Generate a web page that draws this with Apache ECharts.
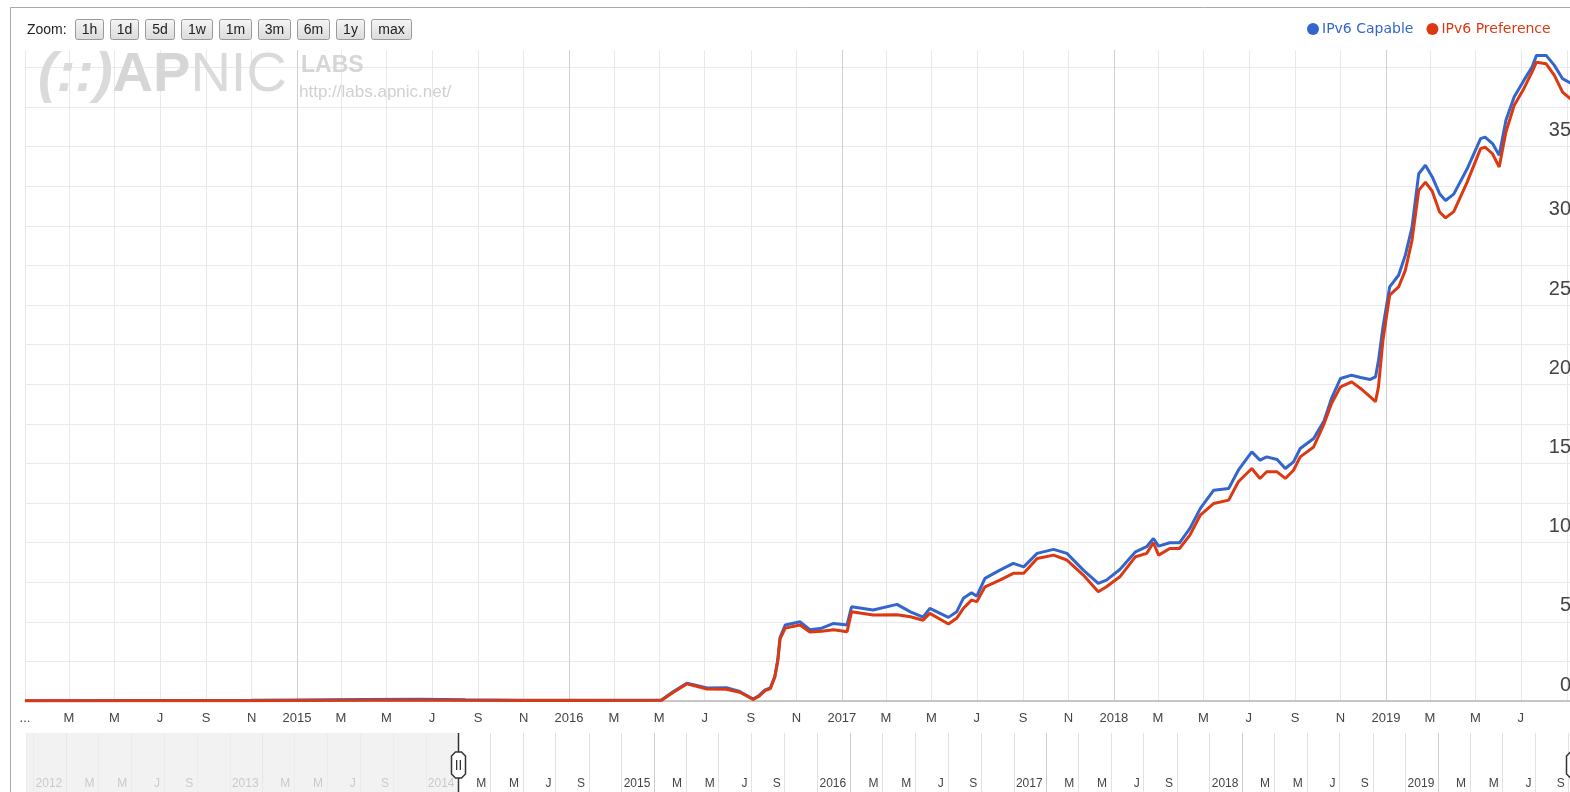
<!DOCTYPE html>
<html>
<head>
<meta charset="utf-8">
<style>
  html, body { margin: 0; padding: 0; width: 1570px; height: 792px; overflow: hidden; background: #fff; }
  #chart { width: 1600px; height: 820px; }
</style>
<script src="https://cdn.jsdelivr.net/npm/echarts@6/dist/echarts.min.js"></script>
</head>
<body>
<div id="chart"></div>
<script>
// 日期
const dates = [
  '2014-01-01','2014-06-01','2014-11-01','2015-01-01','2015-04-01','2015-06-15','2015-08-15','2015-11-01','2016-02-01','2016-05-04',
  '2016-05-20','2016-06-07','2016-06-20','2016-07-04','2016-07-30','2016-08-17','2016-09-04','2016-09-12','2016-09-20','2016-09-27',
  '2016-10-03','2016-10-07','2016-10-10','2016-10-17','2016-11-06','2016-11-19','2016-12-05','2016-12-21','2017-01-08','2017-01-14',
  '2017-02-12','2017-03-16','2017-04-03','2017-04-20','2017-04-29','2017-05-24','2017-06-04','2017-06-13','2017-06-24','2017-07-01',
  '2017-07-12','2017-08-01','2017-08-19','2017-09-02','2017-09-20','2017-10-12','2017-10-30','2017-11-21','2017-12-11','2017-12-22',
  '2018-01-09','2018-01-30','2018-02-14','2018-02-23','2018-03-02','2018-03-17','2018-03-30','2018-04-13','2018-04-27','2018-05-15',
  '2018-06-04','2018-06-17','2018-07-05','2018-07-16','2018-07-25','2018-08-08','2018-08-19','2018-08-30','2018-09-08','2018-09-26',
  '2018-10-10','2018-10-20','2018-11-01','2018-11-16','2018-11-28','2018-12-11','2018-12-18','2018-12-22','2018-12-28','2019-01-06',
  '2019-01-18','2019-01-27','2019-02-05','2019-02-14','2019-02-23','2019-03-04','2019-03-14','2019-03-22','2019-04-02','2019-04-20',
  '2019-05-08','2019-05-14','2019-05-24','2019-06-02','2019-06-11','2019-06-22','2019-07-05','2019-07-16','2019-07-22','2019-08-04',
  '2019-08-15','2019-08-26','2019-09-06'
];
// IPv6 Capable (%)
const capable = [
  0.02, 0.03, 0.04, 0.06, 0.09, 0.11, 0.08, 0.05, 0.05, 0.06,
  0.6, 1.12, 0.98, 0.82, 0.84, 0.6, 0.12, 0.35, 0.7, 0.82,
  1.55, 2.6, 4.0, 4.8, 5.0, 4.5, 4.6, 4.9, 4.8, 5.95,
  5.74, 6.1, 5.63, 5.3, 5.85, 5.28, 5.63, 6.48, 6.83, 6.62,
  7.74, 8.26, 8.69, 8.47, 9.32, 9.57, 9.32, 8.26, 7.43, 7.63,
  8.3, 9.42, 9.74, 10.26, 9.78, 9.99, 9.99, 10.9, 12.16, 13.31,
  13.42, 14.57, 15.73, 15.21, 15.41, 15.25, 14.68, 15.1, 15.94, 16.57,
  17.7, 19.1, 20.36, 20.57, 20.42, 20.3, 20.46, 21.5, 23.6, 26.14,
  26.88, 28.14, 29.92, 33.29, 33.82, 33.1, 32.03, 31.6, 32.0, 33.6,
  35.5, 35.6, 35.19, 34.45, 36.66, 38.13, 39.18, 40.02, 40.76, 40.76,
  40.13, 39.29, 39.0
];
// IPv6 Preference (%)
const preference = [
  0.01, 0.02, 0.02, 0.03, 0.04, 0.05, 0.04, 0.03, 0.03, 0.04,
  0.55, 1.08, 0.93, 0.76, 0.74, 0.55, 0.1, 0.3, 0.66, 0.78,
  1.5, 2.5, 3.9, 4.6, 4.8, 4.35, 4.4, 4.5, 4.37, 5.63,
  5.43, 5.45, 5.32, 5.1, 5.53, 4.86, 5.22, 5.85, 6.37, 6.27,
  7.21, 7.63, 8.06, 8.06, 9.0, 9.21, 8.9, 7.95, 6.9, 7.21,
  7.84, 9.11, 9.32, 9.99, 9.21, 9.63, 9.63, 10.47, 11.74, 12.47,
  12.68, 13.84, 14.68, 14.05, 14.47, 14.47, 14.05, 14.57, 15.41, 16.04,
  17.5, 18.78, 19.83, 20.15, 19.73, 19.2, 18.9, 19.83, 22.78, 25.62,
  26.14, 27.19, 29.08, 32.24, 32.76, 32.2, 30.87, 30.5, 30.9, 32.76,
  34.87, 34.97, 34.55, 33.71, 35.92, 37.6, 38.66, 39.7, 40.33, 40.23,
  39.5, 38.44, 38.0
];
// 年分隔線
const yearLines = ['2015-01-01', '2016-01-01', '2017-01-01', '2018-01-01', '2019-01-01'];
const navYearLines = ['2012-01-01', '2013-01-01', '2015-01-01', '2016-01-01', '2017-01-01', '2018-01-01', '2019-01-01'];
// 範圍
const viewStart = '2014-01-01';
const viewEnd = '2019-09-09';
const navStart = '2011-10-18';
const zoomButtons = ['1h', '1d', '5d', '1w', '1m', '3m', '6m', '1y', 'max'];
const zoomButtonWidths = [28, 28, 29, 31, 32, 32, 32, 28, 40];

const DAY = 24 * 3600 * 1000;
const MONTH_LETTERS = ['J', 'F', 'M', 'A', 'M', 'J', 'J', 'A', 'S', 'O', 'N', 'D'];
const FONT = '"Liberation Sans", Arial, sans-serif';
const GRID_COLOR = '#e8e8ef';
const startTime = echarts.time.parse(viewStart).getTime();
const endTime = echarts.time.parse(viewEnd).getTime();

function monthLabel(value) {
  const d = new Date(value);
  return d.getMonth() === 0 ? String(d.getFullYear()) : MONTH_LETTERS[d.getMonth()];
}

const chart = echarts.init(document.getElementById('chart'), null, { renderer: 'canvas' });

const option = {
  animation: false,
  textStyle: { fontFamily: FONT },
  legend: {
    left: 1302,
    top: 17,
    icon: 'circle',
    itemWidth: 12,
    itemHeight: 12,
    itemGap: 13,
    selectedMode: false,
    textStyle: { fontFamily: '"DejaVu Sans", Verdana, sans-serif', fontSize: 14, padding: [0, 0, 0, -2] },
    data: [
      { name: 'IPv6 Capable', textStyle: { color: '#3366cc' } },
      { name: 'IPv6 Preference', textStyle: { color: '#dc3912' } },
    ],
  },
  grid: [
    { left: 25, top: 50, width: 1548, height: 651 },
    { left: 26, top: 733, width: 1547, height: 67 },
  ],
  xAxis: [
    {
      type: 'time',
      gridIndex: 0,
      min: viewStart,
      max: viewEnd,
      splitNumber: 30,
      minInterval: 70 * DAY,
      maxInterval: 70 * DAY,
      axisLine: { show: true, lineStyle: { color: '#b8b8b8', width: 1.5 } },
      axisTick: { show: false },
      axisLabel: {
        margin: 11,
        fontSize: 13,
        color: '#444',
        hideOverlap: false,
        formatter: function (value) {
          if (value <= startTime) return '...';
          if (value > endTime - 12 * DAY) return '';
          return monthLabel(value);
        },
      },
      splitLine: { show: true, lineStyle: { color: GRID_COLOR } },
    },
    {
      type: 'time',
      gridIndex: 1,
      min: navStart,
      max: viewEnd,
      splitNumber: 41,
      minInterval: 70 * DAY,
      maxInterval: 70 * DAY,
      axisLine: { show: false },
      axisTick: { show: false },
      axisLabel: {
        inside: true,
        margin: 10,
        fontSize: 12,
        color: '#444',
        align: 'right',
        padding: [0, 4, 0, 0],
        hideOverlap: false,
        formatter: function (value) {
          // 十一月標籤會與年份重疊，略去
          const d = new Date(value);
          return d.getMonth() === 10 ? '' : monthLabel(value);
        },
      },
      splitLine: { show: true, lineStyle: { color: '#e2e2e2' } },
    },
  ],
  yAxis: [
    {
      type: 'value',
      gridIndex: 0,
      position: 'right',
      min: 0,
      max: 41.1,
      interval: 2.5,
      axisLine: { show: false },
      axisTick: { show: false },
      axisLabel: {
        inside: true,
        margin: 2,
        fontSize: 20,
        color: '#444',
        verticalAlign: 'bottom',
        padding: [0, 0, 6, 0],
        formatter: function (v) {
          return v % 5 === 0 && v < 40 ? String(v) : '';
        },
      },
      splitLine: { show: true, showMaxLine: false, lineStyle: { color: GRID_COLOR } },
    },
    { type: 'value', gridIndex: 1, min: 0, max: 1, show: false },
  ],
  series: [
    {
      name: 'IPv6 Capable',
      type: 'line',
      xAxisIndex: 0,
      yAxisIndex: 0,
      symbol: 'none',
      color: '#3366cc',
      lineStyle: { width: 3 },
      data: dates.map((d, i) => [d, capable[i]]),
      markLine: {
        z: 1,
        silent: true,
        symbol: 'none',
        label: { show: false },
        lineStyle: { color: '#cfcfcf', type: 'solid', width: 1 },
        data: yearLines.map((d) => ({ xAxis: d })),
      },
    },
    {
      name: 'IPv6 Preference',
      type: 'line',
      xAxisIndex: 0,
      yAxisIndex: 0,
      symbol: 'none',
      color: '#dc3912',
      lineStyle: { width: 3 },
      data: dates.map((d, i) => [d, preference[i]]),
    },
    {
      // 導覽列：年線與未選取區域
      name: 'navigator',
      type: 'line',
      xAxisIndex: 1,
      yAxisIndex: 1,
      data: [],
      markLine: {
        z: 1,
        silent: true,
        symbol: 'none',
        label: { show: false },
        lineStyle: { color: '#cbcbcb', type: 'solid', width: 1 },
        data: navYearLines.map((d) => ({ xAxis: d })),
      },
      markArea: {
        z: 3,
        silent: true,
        itemStyle: { color: 'rgba(238,238,238,0.78)' },
        data: [[{ xAxis: navStart }, { xAxis: viewStart }]],
      },
    },
  ],
};

chart.setOption(option);

// 外框、Zoom 按鈕、浮水印、導覽把手
const graphics = [];
graphics.push({
  type: 'rect',
  silent: true,
  z: 20,
  shape: { x: 10.5, y: 7.5, width: 1700, height: 900 },
  style: { fill: 'none', stroke: '#a9a9a9', lineWidth: 1 },
});
graphics.push({
  type: 'text',
  x: 27,
  y: 30,
  z: 20,
  style: { text: 'Zoom:', font: '14px ' + FONT, fill: '#222', verticalAlign: 'middle' },
});
let bx = 75;
zoomButtons.forEach((label, i) => {
  const w = zoomButtonWidths[i];
  graphics.push({
    type: 'rect',
    z: 20,
    shape: { x: bx + 0.5, y: 19.5, width: w, height: 20, r: 2 },
    style: {
      fill: new echarts.graphic.LinearGradient(0, 0, 0, 1, [
        { offset: 0, color: '#f6f6f6' },
        { offset: 1, color: '#dadada' },
      ]),
      stroke: '#9a9a9a',
      lineWidth: 1,
    },
  });
  graphics.push({
    type: 'text',
    z: 21,
    x: bx + 0.5 + w / 2,
    y: 30,
    style: { text: label, font: '14px ' + FONT, fill: '#222', align: 'center', verticalAlign: 'middle' },
  });
  bx += w + 7;
});
graphics.push({
  type: 'text',
  x: 38,
  y: 76,
  z: 1,
  silent: true,
  style: {
    text: '{a|(::)}{b|AP}{c|NIC}',
    verticalAlign: 'middle',
    rich: {
      a: { fontSize: 56, fontWeight: 'bold', fontStyle: 'italic', fontFamily: FONT, fill: '#dadada' },
      b: { fontSize: 56, fontWeight: 'bold', fontFamily: FONT, fill: '#d6d6d6' },
      c: { fontSize: 56, fontWeight: 'normal', fontFamily: FONT, fill: '#dadada' },
    },
  },
});
graphics.push({
  type: 'text',
  x: 301,
  y: 66,
  z: 1,
  silent: true,
  style: { text: 'LABS', font: 'bold 23px ' + FONT, fill: '#d6d6d6', verticalAlign: 'middle' },
});
graphics.push({
  type: 'text',
  x: 299,
  y: 92,
  z: 1,
  silent: true,
  style: { text: 'http://labs.apnic.net/', font: '17px ' + FONT, fill: '#d0d0d0', verticalAlign: 'middle' },
});

function makeHandle(x) {
  const cy = 765;
  const hw = 7;
  const hh = 13;
  const c = 4;
  return [
    {
      type: 'line',
      z: 22,
      shape: { x1: x, y1: 733, x2: x, y2: 810 },
      style: { stroke: '#333', lineWidth: 1.5 },
    },
    {
      type: 'polygon',
      z: 23,
      shape: {
        points: [
          [x - hw + c, cy - hh], [x + hw - c, cy - hh], [x + hw, cy - hh + c], [x + hw, cy + hh - c],
          [x + hw - c, cy + hh], [x - hw + c, cy + hh], [x - hw, cy + hh - c], [x - hw, cy - hh + c],
        ],
      },
      style: { fill: '#fff', stroke: '#333', lineWidth: 1.5 },
    },
    { type: 'rect', z: 24, shape: { x: x - 2.5, y: cy - 5, width: 1.3, height: 10 }, style: { fill: '#333' } },
    { type: 'rect', z: 24, shape: { x: x + 1.2, y: cy - 5, width: 1.3, height: 10 }, style: { fill: '#333' } },
  ];
}
const leftX = chart.convertToPixel({ xAxisIndex: 1 }, startTime);
const rightX = chart.convertToPixel({ xAxisIndex: 1 }, endTime);
makeHandle(Math.round(leftX) + 0.5).forEach((g) => graphics.push(g));
makeHandle(Math.round(rightX) + 0.5).forEach((g) => graphics.push(g));

chart.setOption({ graphic: graphics });
</script>
</body>
</html>
